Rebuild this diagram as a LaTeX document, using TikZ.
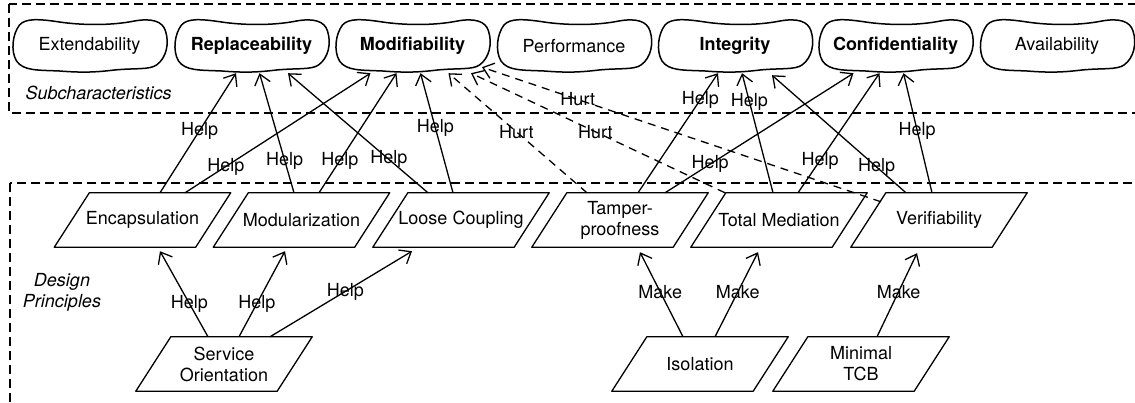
\documentclass[tikz,border=0pt]{standalone}
\usepackage{fontspec}
\setmainfont{TeX Gyre Heros}
\usetikzlibrary{arrows.meta}

\begin{document}
\begin{tikzpicture}[x=1pt,y=-1pt,
  every node/.style={font=\fontsize{18}{21}\selectfont},
  quality/.style={minimum width=153pt,minimum height=54pt,inner sep=0pt},
  principle/.style={minimum width=176pt,minimum height=54pt,inner sep=0pt,align=center},
  outline/.style={line width=1.3pt,line join=round},
  cloudline/.style={line width=1.5pt,line join=round},
  rel/.style={line width=1.3pt,-{Straight Barb[length=10pt,width=16pt,line width=1.3pt]}},
  help/.style={rel},
  hurt/.style={rel,dash pattern=on 8pt off 6pt},
  lbl/.style={inner sep=0pt},
  group/.style={line width=1.2pt,dash pattern=on 9pt off 5pt},
]
\useasboundingbox (0,0) rectangle (1135,403);
\clip (0,0) rectangle (1135,403);

% layer boxes
\draw[group] (9,4) rectangle (1150,113);
\draw[group] (10,183) rectangle (1150,430);
\node[anchor=west,font=\fontsize{18}{21}\selectfont\itshape] (subl) at (22,93) {Subcharacteristics};
\node[align=center,font=\fontsize{18}{21}\selectfont\itshape] (dpl) at (62,292) {Design\\Principles};

% quality subcharacteristics
\node[quality] (ext)   at (89.5,46)  {Extendability};
\node[quality] (rep)   at (251.5,46) {\bfseries Replaceability};
\node[quality] (modi)  at (412.5,46) {\bfseries Modifiability};
\node[quality] (perf)  at (574,46)   {Performance};
\node[quality] (integ) at (735,46)   {\bfseries Integrity};
\node[quality] (conf)  at (895.5,46) {\bfseries Confidentiality};
\node[quality] (avail) at (1057,46)  {Availability};

% hand-drawn blob outline around each subcharacteristic
\foreach \n in {ext,rep,modi,perf,integ,conf,avail}
  \draw[cloudline,shift={(\n.center)}]
    (-70,-21) .. controls (-64,-28) and (-50,-27) .. (-30,-24)
    .. controls (-10,-21) and (20,-20) .. (45,-25)
    .. controls (62,-28) and (73,-25) .. (76,-15)
    .. controls (80,-3) and (77,12) .. (67,19)
    .. controls (60,24) and (45,22) .. (25,24)
    .. controls (8,26) and (-5,27) .. (-30,25)
    .. controls (-52,24) and (-66,25) .. (-73,15)
    .. controls (-79,5) and (-77,-12) .. cycle;

% design principles
\node[principle] (enc)   at (142.5,220) {Encapsulation};
\node[principle] (modu)  at (301.5,220) {Modularization};
\node[principle] (loose) at (461,220)   {Loose Coupling};
\node[principle] (tamp)  at (620,220)   {Tamper-\\proofness};
\node[principle] (total) at (779,220)   {Total Mediation};
\node[principle] (verif) at (939,220)   {Verifiability};
\node[principle] (so)    at (224,364)   {Service\\Orientation};
\node[principle] (iso)   at (700,364)   {Isolation};
\node[principle] (tcb)   at (861,364)   {Minimal\\TCB};

\foreach \n in {enc,modu,loose,tamp,total,verif,so,iso,tcb}
  \draw[outline] ([xshift=35pt]\n.north west) -- (\n.north east)
    -- ([xshift=-35pt]\n.south east) -- (\n.south west) -- cycle;

% principles -> subcharacteristics
\draw[help] ([xshift=17.5pt]enc.north) -- node[lbl,pos=0.52] {Help} ([xshift=-15.5pt]rep.south);
\draw[help] ([xshift=42.5pt]enc.north) -- node[lbl,pos=0.22] {Help} ([xshift=-42pt]modi.south);
\draw[help] ([xshift=-7.5pt]modu.north) -- node[lbl,pos=0.27] {Help} ([xshift=8pt]rep.south);
\draw[help] ([xshift=17.5pt]modu.north) -- node[lbl,pos=0.27] {Help} ([xshift=-16pt]modi.south);
\draw[help] ([xshift=-33pt]loose.north) -- node[lbl,pos=0.28] {Help} ([xshift=36.5pt]rep.south);
\draw[help] ([xshift=-8pt]loose.north) -- node[lbl,pos=0.54] {Help} ([xshift=8pt]modi.south);

\draw[hurt] ([xshift=-33pt]tamp.north) -- node[lbl,pos=0.51] {Hurt} ([xshift=36pt]modi.south);
\draw[hurt] ([xshift=-54pt]total.north) -- node[lbl,pos=0.51] {Hurt} ([xshift=58.5pt]modi.south);
\draw[hurt] ([xshift=-58pt,yshift=-9pt]verif.north) -- node[lbl,pos=0.76] {Hurt} ([xshift=69.5pt,yshift=6pt]modi.south);

\draw[help] ([xshift=18pt]tamp.north) -- node[lbl,pos=0.78] {Help} ([xshift=-17pt]integ.south);
\draw[help] ([xshift=45pt]tamp.north) -- node[lbl,pos=0.24] {Help} ([xshift=-42pt]conf.south);
\draw[help] ([xshift=-6pt]total.north) -- node[lbl,pos=0.76] {Help} ([xshift=7pt]integ.south);
\draw[help] ([xshift=19pt]total.north) -- node[lbl,pos=0.27] {Help} ([xshift=-16pt]conf.south);
\draw[help] ([xshift=-33pt]verif.north) -- node[lbl,pos=0.22] {Help} ([xshift=37pt,yshift=-2pt]integ.south);
\draw[help] ([xshift=-7pt]verif.north) -- node[lbl,pos=0.52] {Help} ([xshift=8pt]conf.south);

% lower principles -> upper principles
\draw[help] ([xshift=-16pt]so.north) -- node[lbl,pos=0.39] {Help} ([xshift=17.5pt,yshift=-4pt]enc.south);
\draw[help] ([xshift=15pt]so.north) -- node[lbl,pos=0.39] {Help} ([xshift=-16.5pt,yshift=-4pt]modu.south);
\draw[help] ([xshift=46pt]so.north) -- node[lbl,pos=0.53] {Help} ([xshift=-49pt,yshift=-4pt]loose.south);
\draw[help] ([xshift=-17pt]iso.north) -- node[lbl,pos=0.53] {Make} ([xshift=20pt,yshift=-5pt]tamp.south);
\draw[help] ([xshift=15pt]iso.north) -- node[lbl,pos=0.53] {Make} ([xshift=-21pt,yshift=-5pt]total.south);
\draw[help] ([xshift=16pt]tcb.north) -- node[lbl,pos=0.54] {Make} ([xshift=-22pt,yshift=-6pt]verif.south);
\end{tikzpicture}
\end{document}
